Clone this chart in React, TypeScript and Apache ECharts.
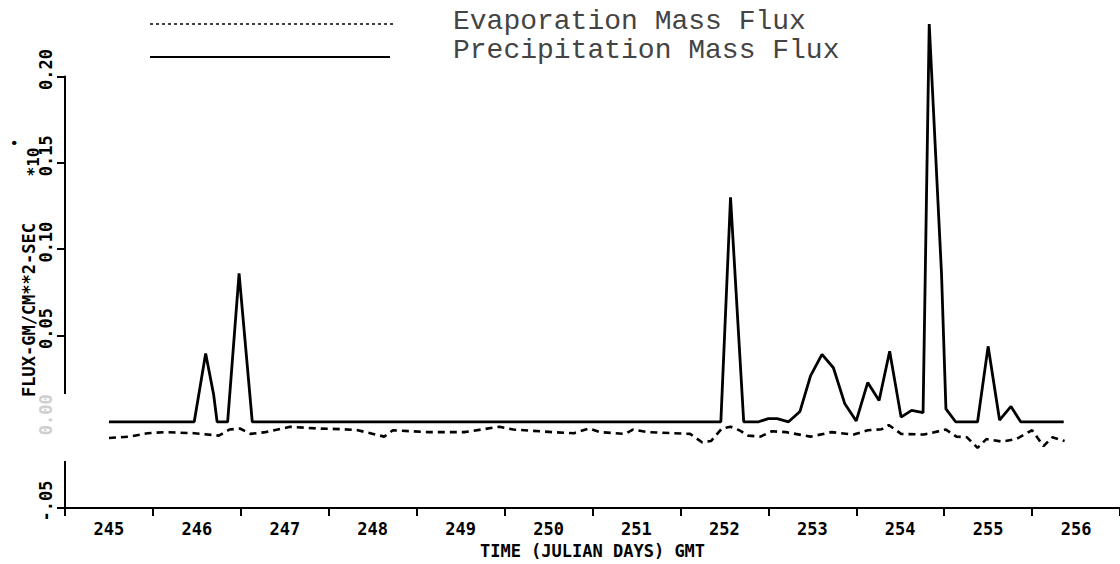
import React, { useEffect, useRef } from "react";
import * as echarts from "echarts";

// Day labels along the time axis (Julian days, GMT)
const dayLabels = ["245", "246", "247", "248", "249", "250", "251", "252", "253", "254", "255", "256"];

// Y tick label texts keyed by value*100
const yTickText: Record<string, string> = {
  "20": "0.20",
  "15": "0.15",
  "10": "0.10",
  "5": "0.05",
  "0": "0.00",
  "-5": "-.05",
};

// Precipitation mass flux — vertices
const precipDays = [
  245.0, 245.97, 246.1, 246.19, 246.23, 246.35, 246.48, 246.63, 251.96, 252.07, 252.22, 252.39,
  252.5, 252.6, 252.73, 252.86, 252.98, 253.11, 253.24, 253.37, 253.5, 253.63, 253.76, 253.88,
  254.01, 254.13, 254.26, 254.33, 254.47, 254.52, 254.63, 254.88, 255.0, 255.13, 255.26, 255.37, 255.86,
];
const precipValues = [
  0, 0, 0.0395, 0.016, 0, 0, 0.086, 0, 0, 0.13, 0, 0,
  0.0018, 0.0018, 0, 0.006, 0.0266, 0.039, 0.0313, 0.0104, 0.0005, 0.0227, 0.0123, 0.0409,
  0.0027, 0.0066, 0.0053, 0.2304, 0.0856, 0.0075, 0, 0, 0.0437, 0.001, 0.0089, 0, 0,
];

// Evaporation mass flux — vertices
const evapDays = [
  245.0, 245.24, 245.44, 245.64, 245.97, 246.25, 246.37, 246.49, 246.61, 246.78, 247.06, 247.38,
  247.66, 247.83, 248.13, 248.23, 248.63, 249.04, 249.44, 249.6, 250.05, 250.29, 250.46, 250.59,
  250.87, 250.96, 251.12, 251.61, 251.75, 251.85, 251.97, 252.07, 252.17, 252.27, 252.41, 252.54,
  252.7, 252.98, 253.22, 253.47, 253.63, 253.79, 253.87, 254.01, 254.27, 254.52, 254.64, 254.76,
  254.88, 254.98, 255.16, 255.32, 255.5, 255.63, 255.73, 255.87,
];
const evapValues = [
  -0.0094, -0.0086, -0.0066, -0.006, -0.0066, -0.008, -0.0045, -0.0039, -0.007, -0.006, -0.0029, -0.0039,
  -0.0043, -0.0049, -0.0086, -0.0049, -0.006, -0.006, -0.0029, -0.0045, -0.006, -0.0066, -0.0039, -0.006,
  -0.007, -0.0045, -0.006, -0.007, -0.012, -0.0111, -0.0039, -0.0029, -0.0049, -0.008, -0.0086, -0.0055,
  -0.006, -0.0086, -0.006, -0.0074, -0.0049, -0.0043, -0.0019, -0.007, -0.0074, -0.0045, -0.0086, -0.009,
  -0.0151, -0.01, -0.0115, -0.01, -0.0049, -0.0141, -0.009, -0.0111,
];

const evapName = "Evaporation Mass Flux";
const precipName = "Precipitation Mass Flux";
const yAxisTitle = "FLUX-GM/CM**2-SEC";
const xAxisTitle = "TIME (JULIAN DAYS) GMT";

const MONO = '"DejaVu Sans Mono", "Liberation Mono", monospace';

export default function App() {
  const ref = useRef<HTMLDivElement>(null);

  useEffect(() => {
    if (!ref.current) return;
    const chart = echarts.init(ref.current, null, { renderer: "svg" });

    const precipData = precipDays.map((d, i) => [d, precipValues[i]]);
    const evapData = evapDays.map((d, i) => [d, evapValues[i]]);
    const key = (v: any) => String(Math.round(Number(v) * 100));

    chart.setOption({
      animation: false,
      backgroundColor: "#ffffff",
      grid: { left: 65, right: -8, top: 76.5, bottom: 50 },
      xAxis: [
        { type: "value", min: 244.5, max: 256.5, show: false },
        {
          type: "category",
          data: dayLabels,
          boundaryGap: true,
          position: "bottom",
          axisLine: { show: true, onZero: false, lineStyle: { color: "#000", width: 2 } },
          axisTick: { show: true, length: 8, lineStyle: { color: "#000", width: 2 } },
          axisLabel: {
            margin: 12,
            color: "#000",
            fontFamily: MONO,
            fontWeight: "bold",
            fontSize: 17,
          },
          splitLine: { show: false },
          name: xAxisTitle,
          nameLocation: "middle",
          nameGap: 30,
          nameTextStyle: { color: "#000", fontFamily: MONO, fontWeight: "bold", fontSize: 17 },
        },
      ],
      yAxis: {
        type: "value",
        min: -0.05,
        max: 0.2,
        interval: 0.05,
        axisLine: { show: true, onZero: false, lineStyle: { color: "#000", width: 2 } },
        axisTick: { show: true, length: 8, lineStyle: { color: "#000", width: 2 } },
        splitLine: { show: false },
        axisLabel: {
          rotate: 90,
          margin: 11,
          padding: [0, 0, 0, 14],
          fontFamily: MONO,
          fontWeight: "bold",
          fontSize: 17,
          formatter: (v: number) => yTickText[key(v)] ?? "",
          color: (v: any) => (key(v) === "0" ? "#cfcfcf" : "#000"),
        },
      },
      series: [
        {
          name: precipName,
          type: "line",
          xAxisIndex: 0,
          data: precipData,
          symbol: "none",
          clip: false,
          z: 3,
          lineStyle: { color: "#000", width: 2.8 },
        },
        {
          name: evapName,
          type: "line",
          xAxisIndex: 0,
          data: evapData,
          symbol: "none",
          clip: false,
          z: 2,
          lineStyle: { color: "#000", width: 2.6, type: [7, 5] },
        },
      ],
      graphic: [
        // legend
        {
          type: "line",
          shape: { x1: 150, y1: 24, x2: 393, y2: 24 },
          style: { stroke: "#000", lineWidth: 1.6, lineDash: [3, 3] },
        },
        {
          type: "text",
          x: 453,
          y: 21,
          style: { text: evapName, font: `28px "Liberation Mono", monospace`, fill: "#444", verticalAlign: "middle" },
        },
        {
          type: "line",
          shape: { x1: 150, y1: 57, x2: 390, y2: 57 },
          style: { stroke: "#000", lineWidth: 2 },
        },
        {
          type: "text",
          x: 453,
          y: 50,
          style: { text: precipName, font: `28px "Liberation Mono", monospace`, fill: "#444", verticalAlign: "middle" },
        },
        // y axis title
        {
          type: "text",
          x: 29,
          y: 310,
          rotation: Math.PI / 2,
          style: { text: yAxisTitle, font: `bold 17px ${MONO}`, fill: "#000", align: "center", verticalAlign: "middle" },
        },
        {
          type: "text",
          x: 33,
          y: 162,
          rotation: Math.PI / 2,
          style: { text: "*10", font: `bold 16px ${MONO}`, fill: "#000", align: "center", verticalAlign: "middle" },
        },
        {
          type: "text",
          x: 15,
          y: 143,
          rotation: Math.PI / 2,
          style: { text: "•", font: `bold 12px ${MONO}`, fill: "#000", align: "center", verticalAlign: "middle" },
        },
        // erased segment of the y axis (as in the scanned original)
        {
          type: "rect",
          z: 100,
          shape: { x: 55, y: 394, width: 18, height: 67 },
          style: { fill: "#ffffff" },
        },
      ],
    });

    return () => chart.dispose();
  }, []);

  return (
    <div
      ref={ref}
      style={{ position: "fixed", left: 0, top: 0, width: 1120, height: 564, background: "#fff" }}
    />
  );
}
